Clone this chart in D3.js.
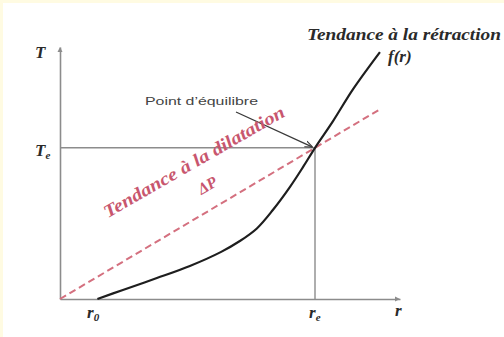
<!DOCTYPE html>
<html>
<head>
<meta charset="utf-8">
<script src="https://cdn.jsdelivr.net/npm/d3@7"></script>
<style>
  html, body { margin: 0; padding: 0; background: #fffbe2; }
  svg { display: block; }
</style>
</head>
<body>
<script>
// Characteristic values on the two axes
const r0 = 1.1;      // starting radius
const rEq = 7.5;     // equilibrium radius r_e
const tEq = 6;       // equilibrium tension T_e

// Retraction curve f(r)
const curveR = [1.1, 1.85, 2.85, 3.82, 4.74, 5.29, 5.79, 6.26, 6.76, 7.15, 7.5, 8.03, 8.62, 9.41];
const curveT = [0.0, 0.36, 0.83, 1.31, 1.87, 2.30, 2.80, 3.53, 4.44, 5.24, 6.0, 7.06, 8.33, 9.8];

// Dilatation line ΔP (straight through origin and the equilibrium point)
const lineR = [0, 9.4];

const W = 504, H = 337;
const svg = d3.select("body").append("svg").attr("width", W).attr("height", H);

// white panel inside the pale yellow frame
svg.append("rect").attr("x", 3).attr("y", 3).attr("width", W - 3).attr("height", H - 3).attr("fill", "#ffffff");

const x = d3.scaleLinear().domain([0, 10]).range([60, 400]);
const y = d3.scaleLinear().domain([0, 10]).range([299, 47]);

const axisColor = "#8c8c8c";
const SERIF = "Liberation Serif";

// axes
const gx = svg.append("g").attr("transform", `translate(0,${y(0)})`)
  .call(d3.axisBottom(x).tickValues([]).tickSizeOuter(0));
const gy = svg.append("g").attr("transform", `translate(${x(0)},0)`)
  .call(d3.axisLeft(y).tickValues([]).tickSizeOuter(0));
[gx, gy].forEach(g => g.select(".domain").attr("stroke", axisColor).attr("stroke-width", 1.6));

// small arrow tips on axes
svg.append("path")
  .attr("d", `M${x(10) - 5},${y(0) - 2.5} L${x(10)},${y(0)} L${x(10) - 5},${y(0) + 2.5}Z`)
  .attr("fill", axisColor);
svg.append("path")
  .attr("d", `M${x(0) - 2.5},${y(10) + 5} L${x(0)},${y(10)} L${x(0) + 2.5},${y(10) + 5}Z`)
  .attr("fill", axisColor);

// equilibrium guides
svg.append("line")
  .attr("x1", x(0)).attr("x2", x(rEq)).attr("y1", y(tEq)).attr("y2", y(tEq))
  .attr("stroke", axisColor).attr("stroke-width", 1.4);
svg.append("line")
  .attr("x1", x(rEq)).attr("x2", x(rEq)).attr("y1", y(tEq)).attr("y2", y(0))
  .attr("stroke", axisColor).attr("stroke-width", 1.4);

// dilatation line ΔP
const slope = tEq / rEq;
svg.append("line")
  .attr("x1", x(lineR[0])).attr("y1", y(lineR[0] * slope))
  .attr("x2", x(lineR[1])).attr("y2", y(lineR[1] * slope))
  .attr("stroke", "#d4707f").attr("stroke-width", 2)
  .attr("stroke-dasharray", "7,4");

// retraction curve f(r)
const pts = curveR.map((r, i) => [r, curveT[i]]);
svg.append("path")
  .datum(pts)
  .attr("d", d3.line().x(d => x(d[0])).y(d => y(d[1])).curve(d3.curveCatmullRom.alpha(0.5)))
  .attr("fill", "none").attr("stroke", "#1e1e1e").attr("stroke-width", 2.2);

// annotation arrow to the equilibrium point
svg.append("defs").append("marker")
  .attr("id", "tip").attr("viewBox", "0 0 10 10").attr("refX", 9).attr("refY", 5)
  .attr("markerWidth", 6).attr("markerHeight", 6).attr("orient", "auto")
  .append("path").attr("d", "M0,1 L10,5 L0,9").attr("fill", "none").attr("stroke", "#3a3a3a").attr("stroke-width", 1.5);
svg.append("line")
  .attr("x1", 236).attr("y1", 112).attr("x2", x(rEq) - 3).attr("y2", y(tEq) - 1)
  .attr("stroke", "#3a3a3a").attr("stroke-width", 1.3).attr("marker-end", "url(#tip)");

svg.append("text").attr("x", 145).attr("y", 105)
  .attr("font-family", "Liberation Sans").attr("font-size", 11.5)
  .attr("fill", "#444").attr("textLength", 113).attr("lengthAdjust", "spacingAndGlyphs")
  .text("Point d’équilibre");

// italic serif text helper
function serifText(px, py, size, color) {
  return svg.append("text").attr("x", px).attr("y", py)
    .attr("font-family", SERIF).attr("font-style", "italic").attr("font-weight", "bold")
    .attr("font-size", size).attr("fill", color || "#2a2a2a");
}
function label(px, py, main, sub) {
  const t = serifText(px, py, 17);
  t.append("tspan").text(main);
  if (sub) t.append("tspan").attr("font-size", 11).attr("dy", 3).text(sub);
  return t;
}
label(35, 58, "T");
label(35, 156, "T", "e");
label(87, 318, "r", "0");
label(309, 318, "r", "e");
label(395, 316, "r");

serifText(307, 40, 16)
  .attr("textLength", 194).attr("lengthAdjust", "spacingAndGlyphs")
  .text("Tendance à la rétraction");
serifText(388, 62, 17).text("f(r)");

// rotated label of the dilatation line
const ang = -Math.atan2(y(0) - y(slope * 10), x(10) - x(0)) * 180 / Math.PI + 0.8;
serifText(0, 0, 18, "#c8566e")
  .attr("transform", `translate(197,167) rotate(${ang})`)
  .attr("text-anchor", "middle")
  .attr("textLength", 206).attr("lengthAdjust", "spacingAndGlyphs")
  .text("Tendance à la dilatation");
serifText(0, 0, 16, "#c8566e")
  .attr("transform", `translate(210,190) rotate(${ang})`)
  .attr("text-anchor", "middle")
  .text("ΔP");
</script>
</body>
</html>
